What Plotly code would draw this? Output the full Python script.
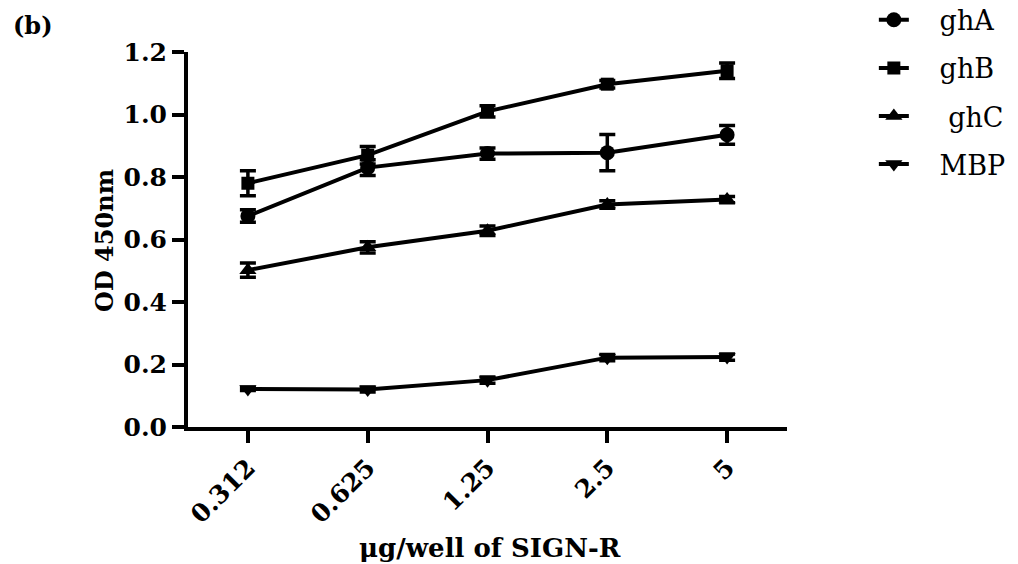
import plotly.graph_objects as go

categories = ["0.312", "0.625", "1.25", "2.5", "5"]

ghA = [0.675, 0.83, 0.875, 0.878, 0.935]
ghA_err = [0.02, 0.025, 0.018, 0.058, 0.03]
ghB = [0.78, 0.87, 1.01, 1.097, 1.14]
ghB_err = [0.04, 0.028, 0.018, 0.012, 0.025]
ghC = [0.502, 0.575, 0.628, 0.712, 0.728]
ghC_err = [0.023, 0.018, 0.015, 0.012, 0.01]
MBP = [0.122, 0.12, 0.15, 0.222, 0.224]
MBP_err = [0.005, 0.008, 0.01, 0.01, 0.01]

series = [
    ("ghA", ghA, ghA_err, "circle", 15),
    ("ghB", ghB, ghB_err, "square", 13),
    ("ghC", ghC, ghC_err, "triangle-up", 15),
    ("MBP", MBP, MBP_err, "triangle-down", 15),
]
legend_pad = ["\u00a0\u00a0\u00a0", "\u00a0\u00a0\u00a0", "\u00a0\u00a0\u00a0\u00a0", "\u00a0\u00a0\u00a0"]

SERIF = "DejaVu Serif, Liberation Serif, serif"

fig = go.Figure()
for i, (name, vals, errs, sym, sz) in enumerate(series):
    fig.add_trace(go.Scatter(
        x=list(range(len(categories))), y=vals, name=legend_pad[i] + name,
        mode="lines+markers",
        line=dict(color="black", width=4),
        marker=dict(symbol=sym, size=sz, color="black"),
        error_y=dict(type="data", array=errs, visible=True,
                     color="black", thickness=3.5, width=8),
        legendgroup="g%d" % i,
    ))

fig.update_layout(
    width=1018, height=564,
    margin=dict(l=188, r=231, t=52, b=137, autoexpand=False),
    paper_bgcolor="white", plot_bgcolor="white",
    showlegend=True,
    legend=dict(x=1.145, y=1.15, xanchor="left", yanchor="top",
                font=dict(family=SERIF, size=27, color="black"),
                tracegroupgap=10, bgcolor="rgba(0,0,0,0)"),
    xaxis=dict(
        range=[-0.5, 4.5], tickmode="array",
        tickvals=list(range(len(categories))), ticktext=categories,
        tickangle=-45, showgrid=False, zeroline=False,
        showline=True, linecolor="black", linewidth=4,
        ticks="outside", ticklen=12, tickwidth=4, tickcolor="black",
        tickfont=dict(family=SERIF, size=25, color="black", weight="bold"),
    ),
    yaxis=dict(
        range=[0, 1.2], tickmode="array",
        tickvals=[0, 0.2, 0.4, 0.6, 0.8, 1.0, 1.2], tickformat=".1f",
        showgrid=False, zeroline=False,
        showline=True, linecolor="black", linewidth=4,
        ticks="outside", ticklen=12, tickwidth=4, tickcolor="black",
        tickfont=dict(family=SERIF, size=25, color="black", weight="bold"),
    ),
    annotations=[
        dict(text="<b>μg/well of SIGN-R</b>", x=0.504, y=-0.322,
             xref="paper", yref="paper", showarrow=False,
             xanchor="center", yanchor="middle",
             font=dict(family=SERIF, size=26, color="black")),
        dict(text="<b>OD 450nm</b>", x=-0.139, y=0.498,
             xref="paper", yref="paper", showarrow=False, textangle=-90,
             xanchor="center", yanchor="middle",
             font=dict(family=SERIF, size=24, color="black")),
        dict(text="<b>(b)</b>", x=-0.296, y=1.071,
             xref="paper", yref="paper", showarrow=False,
             xanchor="left", yanchor="middle",
             font=dict(family=SERIF, size=24, color="black")),
    ],
)

fig.write_html("out.html")
